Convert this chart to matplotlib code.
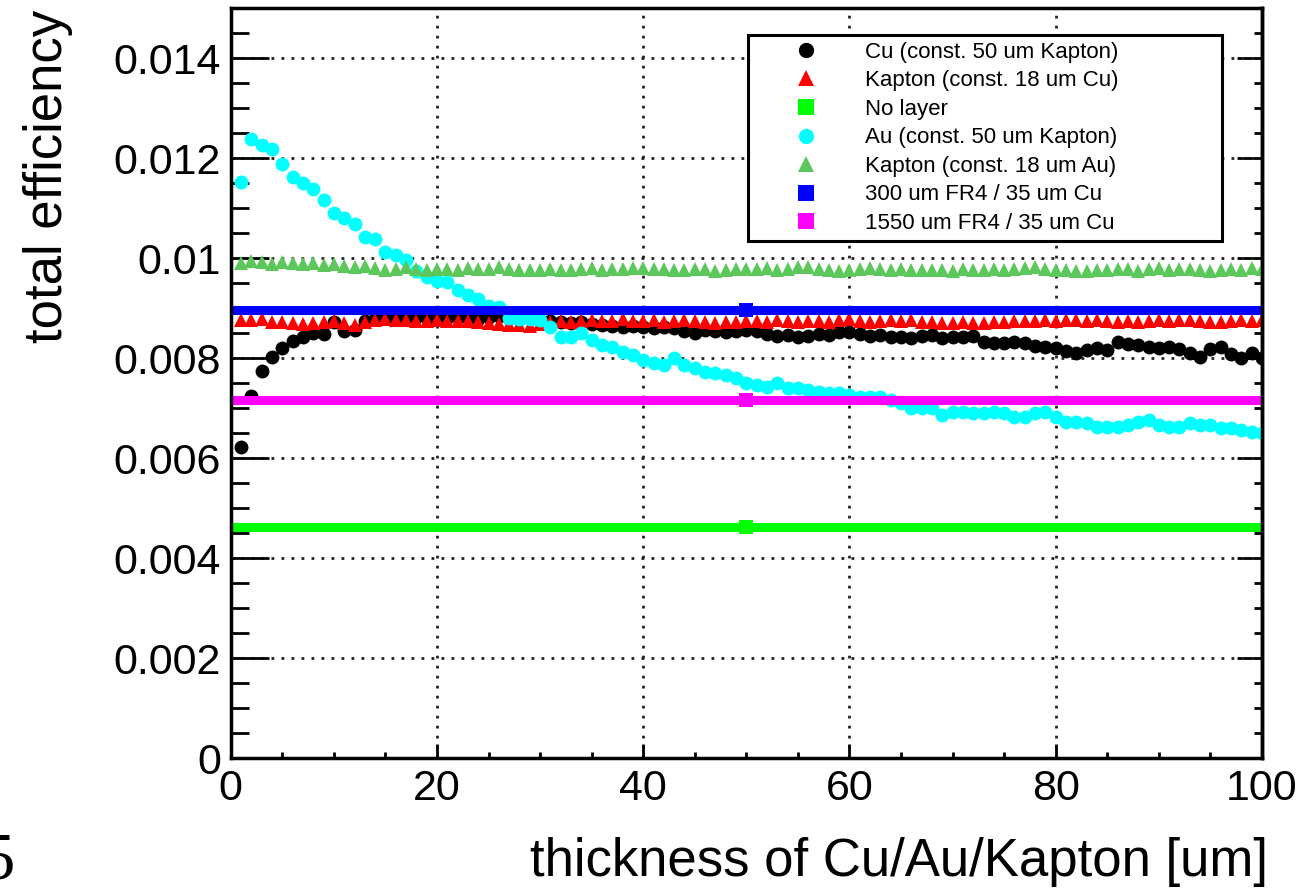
import matplotlib
matplotlib.use('Agg')
import matplotlib.pyplot as plt
from matplotlib.lines import Line2D
from matplotlib.ticker import MultipleLocator, FuncFormatter, NullFormatter
import numpy as np

plt.rcParams['font.family'] = ['Liberation Sans', 'DejaVu Sans']

# espessura (um) - 100 pontos
thickness = list(range(1, 101))

# Cu (const. 50 um Kapton), valores em 1e-3
cu = [6.22, 7.25, 7.75, 8.02, 8.20, 8.35, 8.42, 8.50, 8.48, 8.72,
      8.54, 8.56, 8.74, 8.78, 8.80, 8.78, 8.80, 8.82, 8.80, 8.78,
      8.80, 8.82, 8.80, 8.78, 8.82, 8.85, 8.80, 8.78, 8.80, 8.76,
      8.74, 8.72, 8.70, 8.72, 8.68, 8.66, 8.64, 8.62, 8.64, 8.62,
      8.60, 8.62, 8.60, 8.55, 8.50, 8.56, 8.55, 8.52, 8.55, 8.57,
      8.55, 8.48, 8.44, 8.46, 8.43, 8.45, 8.48, 8.47, 8.53, 8.52,
      8.48, 8.44, 8.46, 8.43, 8.42, 8.40, 8.45, 8.47, 8.40, 8.42,
      8.42, 8.44, 8.32, 8.30, 8.30, 8.32, 8.30, 8.25, 8.22, 8.20,
      8.15, 8.10, 8.17, 8.20, 8.17, 8.32, 8.28, 8.27, 8.22, 8.20,
      8.22, 8.18, 8.10, 8.03, 8.18, 8.22, 8.08, 8.00, 8.10, 8.00]

# Kapton (const. 18 um Cu)
kapton_cu = [8.77, 8.76, 8.79, 8.73, 8.73, 8.70, 8.69, 8.70, 8.73, 8.74,
             8.70, 8.67, 8.73, 8.77, 8.78, 8.77, 8.76, 8.75, 8.74, 8.76,
             8.75, 8.74, 8.75, 8.73, 8.70, 8.68, 8.66, 8.67, 8.65, 8.68,
             8.72, 8.74, 8.73, 8.75, 8.76, 8.74, 8.75, 8.78, 8.75, 8.74,
             8.76, 8.73, 8.75, 8.77, 8.74, 8.73, 8.71, 8.73, 8.72, 8.74,
             8.75, 8.72, 8.76, 8.74, 8.73, 8.74, 8.75, 8.72, 8.76, 8.78,
             8.74, 8.73, 8.75, 8.77, 8.74, 8.76, 8.73, 8.72, 8.70, 8.71,
             8.72, 8.70, 8.71, 8.72, 8.73, 8.74, 8.75, 8.74, 8.76, 8.75,
             8.77, 8.76, 8.75, 8.77, 8.74, 8.73, 8.75, 8.72, 8.74, 8.76,
             8.75, 8.77, 8.76, 8.75, 8.72, 8.73, 8.74, 8.76, 8.75, 8.77]

# Au (const. 50 um Kapton)
au = [11.53, 12.38, 12.27, 12.18, 11.89, 11.63, 11.50, 11.38, 11.17, 10.90,
      10.80, 10.69, 10.43, 10.38, 10.13, 10.07, 9.97, 9.75, 9.63, 9.55,
      9.53, 9.36, 9.26, 9.19, 9.05, 9.03, 8.80, 8.78, 8.78, 8.77,
      8.62, 8.43, 8.43, 8.50, 8.37, 8.27, 8.23, 8.13, 8.07, 7.97,
      7.90, 7.87, 8.00, 7.87, 7.80, 7.73, 7.70, 7.67, 7.60, 7.50,
      7.47, 7.43, 7.50, 7.40, 7.40, 7.37, 7.33, 7.30, 7.30, 7.27,
      7.23, 7.23, 7.23, 7.17, 7.10, 7.00, 7.00, 7.00, 6.87, 6.93,
      6.93, 6.90, 6.90, 6.93, 6.90, 6.83, 6.83, 6.90, 6.93, 6.83,
      6.73, 6.73, 6.70, 6.63, 6.63, 6.63, 6.67, 6.73, 6.77, 6.67,
      6.63, 6.63, 6.70, 6.67, 6.67, 6.60, 6.60, 6.57, 6.53, 6.50]

# Kapton (const. 18 um Au)
kapton_au = [9.90, 9.95, 9.93, 9.89, 9.93, 9.90, 9.89, 9.90, 9.87, 9.89,
             9.85, 9.83, 9.85, 9.80, 9.77, 9.78, 9.82, 9.78, 9.77, 9.79,
             9.78, 9.77, 9.80, 9.79, 9.78, 9.82, 9.78, 9.77, 9.76, 9.77,
             9.78, 9.77, 9.76, 9.78, 9.80, 9.76, 9.78, 9.79, 9.80, 9.81,
             9.79, 9.78, 9.77, 9.76, 9.78, 9.79, 9.74, 9.76, 9.78, 9.79,
             9.78, 9.80, 9.76, 9.79, 9.83, 9.82, 9.79, 9.77, 9.75, 9.76,
             9.79, 9.80, 9.78, 9.77, 9.79, 9.76, 9.77, 9.76, 9.77, 9.75,
             9.78, 9.77, 9.76, 9.78, 9.77, 9.78, 9.80, 9.82, 9.78, 9.76,
             9.77, 9.75, 9.74, 9.77, 9.77, 9.78, 9.79, 9.74, 9.78, 9.80,
             9.77, 9.78, 9.79, 9.76, 9.75, 9.77, 9.78, 9.76, 9.80, 9.78]

# referencias constantes (ponto central + meia largura)
flat_x = 50
flat_xerr = 50
no_layer = 4.62
fr4_300 = 8.97
fr4_1550 = 7.17

labels = ['Cu (const. 50 um Kapton)', 'Kapton (const. 18 um Cu)', 'No layer',
          'Au (const. 50 um Kapton)', 'Kapton (const. 18 um Au)',
          '300 um FR4 / 35 um Cu', '1550 um FR4 / 35 um Cu']

x = np.array(thickness)
s = 1e-3

fig = plt.figure(figsize=(13.03, 8.93), dpi=100)
ax = fig.add_axes([0.1771, 0.1508, 0.7914, 0.8399])

ms = 10
ax.plot(x, np.array(cu) * s, 'o', color='black', ms=ms, mew=0)
ax.plot(x, np.array(kapton_cu) * s, '^', color='#ff0000', ms=ms, mew=0)
ax.errorbar([flat_x], [no_layer * s], xerr=[flat_xerr], fmt='s', color='#00ff00',
            ms=10, mew=0, elinewidth=6.5, capsize=0)
ax.plot(x, np.array(au) * s, 'o', color='#00ffff', ms=ms, mew=0)
ax.plot(x, np.array(kapton_au) * s, '^', color='#5cc85c', ms=ms, mew=0)
ax.errorbar([flat_x], [fr4_300 * s], xerr=[flat_xerr], fmt='s', color='#0000ff',
            ms=10, mew=0, elinewidth=6.5, capsize=0)
ax.errorbar([flat_x], [fr4_1550 * s], xerr=[flat_xerr], fmt='s', color='#ff00ff',
            ms=10, mew=0, elinewidth=6.5, capsize=0)

ax.set_xlim(0, 100)
ax.set_ylim(0, 0.015)

# eixos estilo ROOT
ax.xaxis.set_major_locator(MultipleLocator(20))
ax.xaxis.set_minor_locator(MultipleLocator(5))
ax.yaxis.set_major_locator(MultipleLocator(0.002))
ax.yaxis.set_minor_locator(MultipleLocator(0.0005))
ax.yaxis.set_major_formatter(FuncFormatter(lambda v, p: f'{v:g}'))
ax.tick_params(axis='both', which='both', direction='in', width=2, labelsize=31)
ax.tick_params(axis='y', which='major', length=27, pad=7)
ax.tick_params(axis='y', which='minor', length=13)
ax.tick_params(axis='x', which='major', length=10, pad=8)
ax.tick_params(axis='x', which='minor', length=4)
for sp in ax.spines.values():
    sp.set_linewidth(2.5)

ax2 = ax.secondary_yaxis('right')
ax2.yaxis.set_major_locator(MultipleLocator(0.002))
ax2.yaxis.set_minor_locator(MultipleLocator(0.0005))
ax2.yaxis.set_major_formatter(NullFormatter())
ax2.tick_params(axis='y', which='major', direction='in', length=18, width=2)
ax2.tick_params(axis='y', which='minor', direction='in', length=6, width=2)
ax2.spines['right'].set_linewidth(2.5)

ax.grid(True, which='major', color='#222222', linestyle=(0, (1, 2.6)), linewidth=2)
ax.set_axisbelow(True)

# legenda
handles = [
    Line2D([], [], marker='o', color='black', ls='none', ms=11, mew=0),
    Line2D([], [], marker='^', color='#ff0000', ls='none', ms=11, mew=0),
    Line2D([], [], marker='s', color='#00ff00', ls='none', ms=11, mew=0),
    Line2D([], [], marker='o', color='#00ffff', ls='none', ms=11, mew=0),
    Line2D([], [], marker='^', color='#5cc85c', ls='none', ms=11, mew=0),
    Line2D([], [], marker='s', color='#0000ff', ls='none', ms=11, mew=0),
    Line2D([], [], marker='s', color='#ff00ff', ls='none', ms=11, mew=0),
]
W, H = 1303, 893
leg = fig.legend(handles, labels, loc='upper left',
                 bbox_to_anchor=(748 / W, 1 - 237 / H, (1222 - 748) / W, (237 - 35) / H),
                 mode='expand', fontsize=16, frameon=True, fancybox=False,
                 borderpad=0.3, handlelength=4.6, handletextpad=0.36,
                 labelspacing=0.34, borderaxespad=0)
leg.get_frame().set_edgecolor('black')
leg.get_frame().set_linewidth(2.2)
leg.get_frame().set_alpha(1)

fig.text(48 / W, 1 - 10 / H, 'total efficiency', rotation=90, ha='center', va='top', fontsize=38)
fig.text(1268 / W, 1 - 862 / H, 'thickness of Cu/Au/Kapton [um]', ha='right', va='center', fontsize=38)
fig.text(15 / W, 1 - 862 / H, '5', ha='right', va='center', fontsize=48,
         family=['Liberation Serif', 'DejaVu Serif'])

fig.savefig('out.png', dpi=100)
